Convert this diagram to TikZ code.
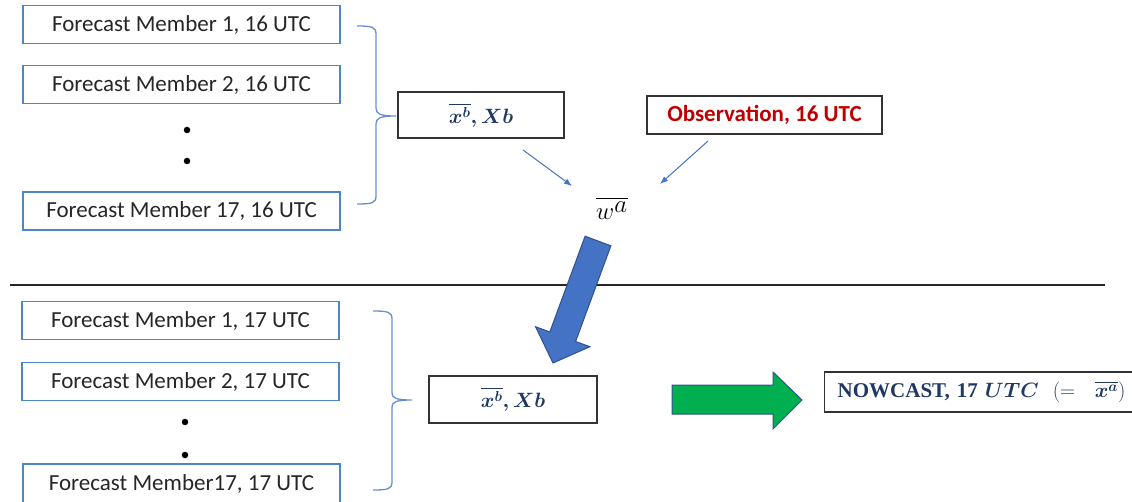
\documentclass[tikz,border=0pt]{standalone}
\usepackage{amsmath}
\usepackage{fontspec}
\setmainfont{Carlito}
\newfontfamily\serifbold{Liberation Serif}
\usetikzlibrary{arrows.meta,calc}
\definecolor{memblue}{HTML}{4A86C8}
\definecolor{brblue}{HTML}{6A8FD0}
\definecolor{arrblue}{HTML}{4472C4}
\definecolor{arredge}{HTML}{2F528F}
\definecolor{navy}{HTML}{1F3864}
\definecolor{obsred}{HTML}{C00000}
\definecolor{grn}{HTML}{00B050}
\definecolor{txtgray}{HTML}{262626}
\tikzset{
  member/.style={draw=memblue, line width=1.3pt, minimum width=317pt, minimum height=38pt, inner sep=0pt,
    font=\fontsize{23}{27}\selectfont, text=txtgray},
  blackbox/.style={draw=black!80, line width=1.4pt, inner sep=0pt},
  bracket/.style={draw=brblue, line width=1.3pt},
  thinarrow/.style={draw=arrblue, line width=1pt, -{Latex[length=8pt,width=6pt]}},
  dotmark/.style={circle, fill=black, inner sep=0pt, minimum size=6.5pt},
  bigarrow/.style={draw=arredge, line width=1pt, line join=miter}
}
\begin{document}
\begin{tikzpicture}[x=1pt,y=-1pt]
\useasboundingbox (0,0) rectangle (1132,502);
% upper members
\node[member] (m1a) at (181.5,24.5) {Forecast Member 1, 16 UTC};
\node[member] (m2a) at (181.5,84.5) {Forecast Member 2, 16 UTC};
\node[dotmark] (d1a) at (187,130) {};
\node[dotmark] (d2a) at (187,161) {};
\node[member] (m17a) at (181.5,211) {Forecast Member 17, 16 UTC};
% upper bracket
\draw[bracket] (357,26) .. controls (372,26) and (376,27) .. (376,34) -- (376,108)
  .. controls (376,114) and (380,116) .. (396,116)
  (396,116) .. controls (380,116) and (376,118) .. (376,124) -- (376,196)
  .. controls (376,203) and (372,204) .. (357,204);
% xb upper
\node[blackbox, minimum width=166pt, minimum height=46pt, text=navy, font=\fontsize{21}{25}\selectfont] (xba) at (481,115) {$\boldsymbol{\overline{x^{b}}, Xb}$};
\node[blackbox, minimum width=235pt, minimum height=38pt, text=obsred, font=\bfseries\fontsize{23}{27}\selectfont] (obs) at (764.5,115) {Observation, 16 UTC};
\node[inner sep=0pt, anchor=base west, font=\fontsize{36}{42}\selectfont] (wa) at (596,220) {$\overline{w^{a}}$};
\coordinate (a1s) at (523,150);
\coordinate (a1e) at (572,186);
\coordinate (a2s) at (708,141);
\coordinate (a2e) at (660,184);
\draw[thinarrow] (a1s) -- (a1e);
\draw[thinarrow] (a2s) -- (a2e);
% separator
\draw[line width=1.1pt, black!85] (10,285) -- (1105,285);
% big blue arrow
\filldraw[bigarrow, fill=arrblue] (610.9,245.8) -- (575.6,341.5) -- (589.9,346.7) -- (553,363) -- (535.5,326.7) -- (549.8,332) -- (585.1,236.2) -- cycle;
% lower members
\node[member] (m1b) at (180.5,320.5) {Forecast Member 1, 17 UTC};
\node[member] (m2b) at (180.5,381.5) {Forecast Member 2, 17 UTC};
\node[dotmark] (d1b) at (185,422) {};
\node[dotmark] (d2b) at (185,455) {};
\node[member, minimum height=39pt] (m17b) at (181.5,483.5) {Forecast Member17, 17 UTC};
% lower bracket
\draw[bracket] (373,311) .. controls (388,311) and (392,312) .. (392,319) -- (392,393)
  .. controls (392,398) and (396,400) .. (412,400)
  (412,400) .. controls (396,400) and (392,402) .. (392,407) -- (392,482)
  .. controls (392,489) and (388,490) .. (373,490);
% xb lower
\node[blackbox, minimum width=168pt, minimum height=47pt, text=navy, font=\fontsize{21}{25}\selectfont] (xbb) at (513,399.5) {$\boldsymbol{\overline{x^{b}}, Xb}$};
% green arrow
\filldraw[bigarrow, fill=grn] (672,385) -- (773,385) -- (773,372) -- (802,400) -- (773,429) -- (773,414) -- (672,414) -- cycle;
% nowcast
\node[blackbox, anchor=west, inner xsep=13pt, text width=290pt, minimum height=40pt, align=left, text=navy,
  font=\fontsize{21}{25}\selectfont] (now) at (824,392)
  {{\serifbold\bfseries NOWCAST, 17} $\boldsymbol{UTC}$\ \ $(=\ \ \boldsymbol{\overline{x^{a}}})$};
\end{tikzpicture}
\end{document}
